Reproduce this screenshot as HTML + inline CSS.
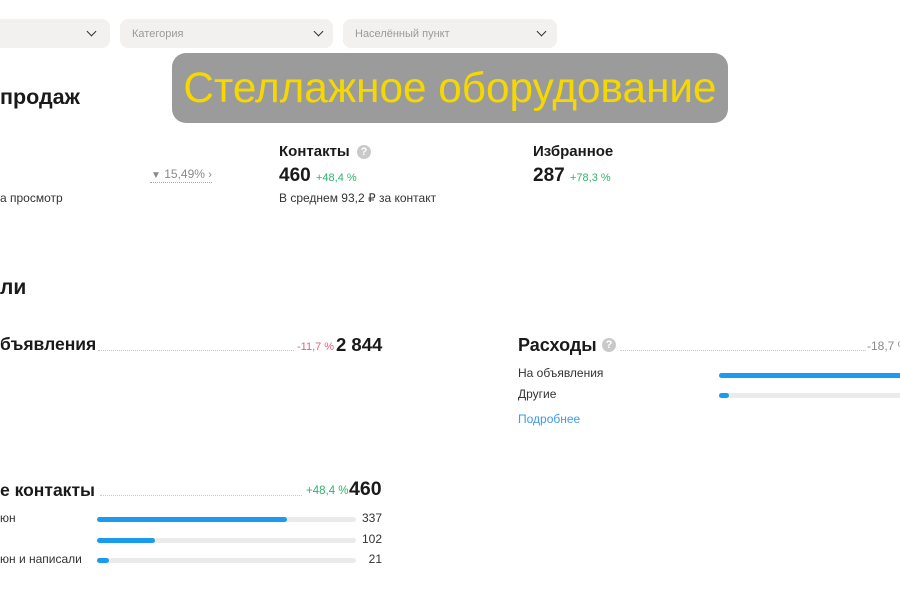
<!DOCTYPE html>
<html><head><meta charset="utf-8">
<style>
html,body{margin:0;padding:0;background:#fff;}
body{width:900px;height:600px;position:relative;overflow:hidden;font-family:"Liberation Sans","Noto Sans CJK SC",sans-serif;color:#1a1a1a;}
.a{position:absolute;white-space:nowrap;}
.dd{position:absolute;top:19px;height:29px;background:#f2f1f0;border-radius:8px;}
.dd span{position:absolute;left:12px;top:1px;line-height:29px;font-size:11px;color:#9a9a9a;}
.chev{position:absolute;top:9px;width:6px;height:6px;border-right:1.6px solid #333;border-bottom:1.6px solid #333;transform:rotate(45deg);}
.b{font-weight:bold;}
.q{position:absolute;width:14px;height:14px;border-radius:50%;background:#c9c9c9;color:#fff;font-size:11px;font-weight:bold;text-align:center;line-height:14px;}
.dot{position:absolute;height:0;border-top:1px dotted #c8c8c8;}
.track{position:absolute;height:5px;border-radius:3px;background:#ebebeb;}
.fill{position:absolute;left:0;top:0;height:5px;border-radius:3px;background:#1a9bf0;}
.g{color:#2fb36c;}
.r{color:#e5607a;}
</style></head><body>

<!-- dropdowns -->
<div class="dd" style="left:-20px;width:130px;"><div class="chev" style="left:108px;"></div></div>
<div class="dd" style="left:120px;width:213px;"><span>Категория</span><div class="chev" style="left:195px;"></div></div>
<div class="dd" style="left:343px;width:214px;"><span>Населённый пункт</span><div class="chev" style="left:195px;"></div></div>

<!-- headings -->
<div class="a b" style="left:0;top:85px;line-height:24px;font-size:21.5px;">продаж</div>

<div class="a" style="left:0;top:190px;line-height:16px;font-size:12px;color:#333;">а просмотр</div>

<div class="a" style="left:151px;top:166px;line-height:16px;font-size:12px;color:#8a8a8a;"><span style="font-size:10px;">&#9660;</span> 15,49% <span style="font-size:11px;">&#8250;</span></div>
<div class="dot" style="left:150px;top:182px;width:62px;border-top-color:#aaa;"></div>

<div class="a b" style="left:279px;top:142px;line-height:20px;font-size:15px;">Контакты</div>
<div class="q" style="left:357px;top:145px;">?</div>
<div class="a" style="left:279px;top:165px;line-height:22px;font-size:19px;"><b>460</b> <span class="g" style="font-size:11px;">+48,4 %</span></div>
<div class="a" style="left:279px;top:190px;line-height:16px;font-size:12px;color:#333;">В среднем 93,2 ₽ за контакт</div>

<div class="a b" style="left:533px;top:142px;line-height:20px;font-size:15px;">Избранное</div>
<div class="a" style="left:533px;top:165px;line-height:22px;font-size:19px;"><b>287</b> <span class="g" style="font-size:11px;">+78,3 %</span></div>

<div class="a b" style="left:0;top:276px;line-height:24px;font-size:21px;">ли</div>

<!-- объявления -->
<div class="a b" style="left:0;top:333px;line-height:22px;font-size:17.5px;">бъявления</div>
<div class="dot" style="left:98px;top:350px;width:196px;"></div>
<div class="a r" style="left:297px;top:339px;line-height:16px;font-size:11px;">-11,7 %</div>
<div class="a b" style="left:336px;top:334px;line-height:22px;font-size:18.5px;">2 844</div>

<!-- Расходы -->
<div class="a b" style="left:518px;top:334px;line-height:22px;font-size:18px;">Расходы</div>
<div class="q" style="left:602px;top:338px;">?</div>
<div class="dot" style="left:620px;top:350px;width:246px;"></div>
<div class="a" style="left:867px;top:338px;line-height:16px;font-size:12px;color:#8a8a8a;">-18,7 %</div>

<div class="a" style="left:518px;top:365px;line-height:16px;font-size:12px;color:#333;">На объявления</div>
<div class="track" style="left:719px;top:373px;width:200px;"><div class="fill" style="width:200px;"></div></div>
<div class="a" style="left:518px;top:386px;line-height:16px;font-size:12px;color:#333;">Другие</div>
<div class="track" style="left:719px;top:393px;width:200px;"><div class="fill" style="width:10px;"></div></div>
<div class="a" style="left:518px;top:411px;line-height:16px;font-size:12px;color:#3a9de6;">Подробнее</div>

<!-- контакты -->
<div class="a b" style="left:0;top:479px;line-height:22px;font-size:17.5px;">е контакты</div>
<div class="dot" style="left:100px;top:495px;width:202px;"></div>
<div class="a g" style="left:306px;top:483px;line-height:16px;font-size:11.5px;">+48,4 %</div>
<div class="a b" style="left:349px;top:478px;line-height:22px;font-size:19.5px;">460</div>

<div class="a" style="left:0;top:510px;line-height:16px;font-size:12px;color:#333;">юн</div>
<div class="track" style="left:97px;top:517px;width:259px;"><div class="fill" style="width:190px;"></div></div>
<div class="a" style="left:340px;width:42px;text-align:right;top:510px;line-height:16px;font-size:12px;color:#333;">337</div>

<div class="track" style="left:97px;top:538px;width:259px;"><div class="fill" style="width:58px;"></div></div>
<div class="a" style="left:340px;width:42px;text-align:right;top:531px;line-height:16px;font-size:12px;color:#333;">102</div>

<div class="a" style="left:0;top:551px;line-height:16px;font-size:12px;color:#333;">юн и написали</div>
<div class="track" style="left:97px;top:558px;width:259px;"><div class="fill" style="width:12px;"></div></div>
<div class="a" style="left:340px;width:42px;text-align:right;top:551px;line-height:16px;font-size:12px;color:#333;">21</div>

<!-- overlay -->
<div style="position:absolute;left:172px;top:53px;width:556px;height:70px;background:#9b9b9b;border-radius:14px;display:flex;align-items:center;justify-content:center;">
<span style="font-size:42.3px;color:#f5d800;white-space:nowrap;">Стеллажное оборудование</span>
</div>

</body></html>
